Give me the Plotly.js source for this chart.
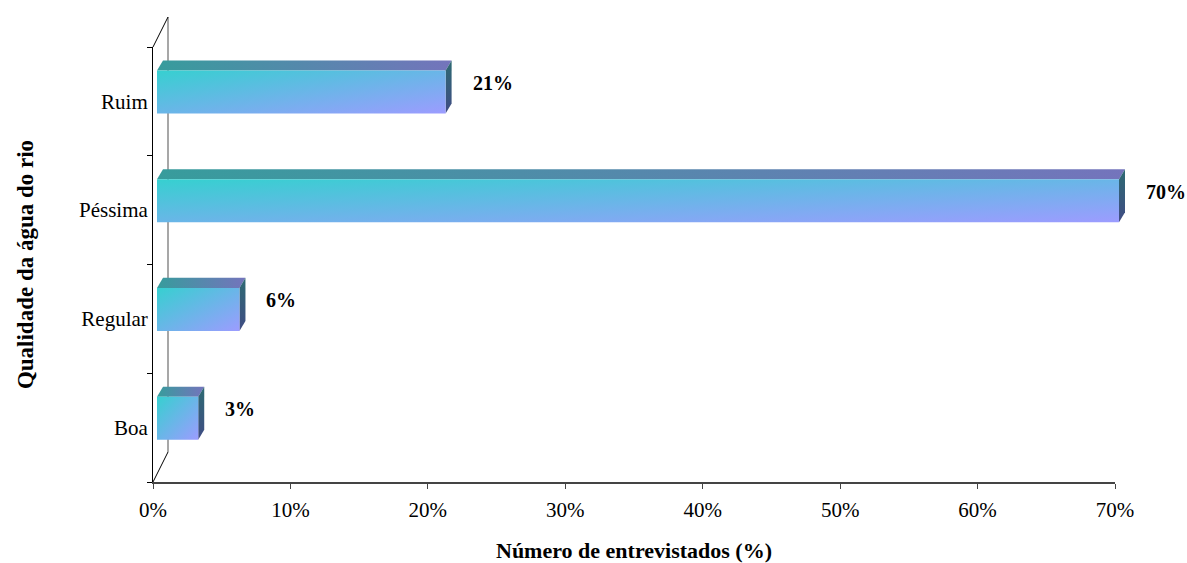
<!DOCTYPE html>
<html>
<head>
<meta charset="utf-8">
<script src="https://cdn.plot.ly/plotly-3.0.1.min.js"></script>
<style>
  html, body { margin: 0; padding: 0; background: #fff; }
  #chart { width: 1187px; height: 563px; }
</style>
</head>
<body>
<div id="chart"></div>
<script>
// ---- Data ----
const categories = ['Boa', 'Regular', 'Péssima', 'Ruim'];
const values = [3, 6, 70, 21];
const valueLabels = ['3%', '6%', '70%', '21%'];
const xTitle = 'Número de entrevistados (%)';
const yTitle = 'Qualidade da água do rio';

// ---- Geometry (styling) ----
const W = 1187, H = 563;
const M = { l: 153, r: 1, t: 47, b: 81 };
const axisW = 962;                  // px length of the visible 0–70% axis
const fullW = W - M.l - M.r;        // px of the whole plotting strip
const plotH = H - M.t - M.b;
const xMax = 70;
const kx = axisW / xMax;            // px per %
const ky = plotH / categories.length; // px per category
const shiftX = 4, shiftY = 9.5;     // front-face offset (px)
const barPx = 43;                   // bar thickness (px)
const depthX = 6, depthY = 10;      // 3D depth (px)
const wallX = 15, wallY = 30;       // back-wall depth (px)
const serif = '"Liberation Serif", "Times New Roman", serif';

const idx = categories.map((_, i) => i);
const hw = barPx / ky / 2, ddx = depthX / kx, ddy = depthY / ky;

// ---- 3D faces built from data ----
const shapes = [];
const roles = [];
const px = wallX / fullW, py = wallY / plotH;
shapes.push({ type: 'line', xref: 'paper', yref: 'paper', x0: px, x1: px, y0: py, y1: 1 + py,
  line: { color: '#8a8a8a', width: 1.5 }, layer: 'below' }); roles.push('frame');
shapes.push({ type: 'line', xref: 'paper', yref: 'paper', x0: 0, x1: px, y0: 0, y1: py,
  line: { color: '#000', width: 1 }, layer: 'below' }); roles.push('frame');
shapes.push({ type: 'line', xref: 'paper', yref: 'paper', x0: 0, x1: px, y0: 1, y1: 1 + py,
  line: { color: '#000', width: 1 }, layer: 'below' }); roles.push('frame');

values.forEach((v, i) => {
  const y0 = idx[i] - hw, y1 = idx[i] + hw;
  shapes.push({
    type: 'path', xref: 'x2', yref: 'y2', layer: 'below',
    path: `M0,${y1} L${v},${y1} L${v + ddx},${y1 + ddy} L${ddx},${y1 + ddy} Z`,
    fillcolor: '#5585a8', line: { width: 0 }
  }); roles.push('top');
  shapes.push({
    type: 'path', xref: 'x2', yref: 'y2', layer: 'below',
    path: `M${v},${y0} L${v},${y1} L${v + ddx},${y1 + ddy} L${v + ddx},${y0 + ddy} Z`,
    fillcolor: '#385878', line: { width: 0 }
  }); roles.push('side');
});

const annotations = values.map((v, i) => ({
  xref: 'x2', yref: 'y2', x: v, y: idx[i], text: '<b>' + valueLabels[i] + '</b>',
  showarrow: false, xanchor: 'left', yanchor: 'middle', xshift: 25, yshift: 9,
  font: { family: serif, size: 20, color: '#000' }
}));

const data = [
  { // category anchor (invisible) for the labelled axis
    type: 'scatter', mode: 'markers', x: values, y: categories,
    marker: { opacity: 0 }, hoverinfo: 'skip', showlegend: false
  },
  {
    type: 'bar', orientation: 'h', x: values, y: idx, xaxis: 'x2', yaxis: 'y2',
    width: barPx / ky, marker: { color: '#6ab6e8', line: { width: 0 } },
    cliponaxis: false, hoverinfo: 'skip', showlegend: false
  }
];

const layout = {
  width: W, height: H, margin: M,
  paper_bgcolor: '#fff', plot_bgcolor: 'rgba(0,0,0,0)',
  showlegend: false, hovermode: false,
  font: { family: serif, color: '#000' },
  xaxis: {
    domain: [0, axisW / fullW],
    range: [0, xMax], dtick: 10, tick0: 0, ticksuffix: '%',
    showline: true, linecolor: '#444', linewidth: 1.5,
    ticks: 'outside', ticklen: 5, tickcolor: '#444', tickwidth: 1,
    ticklabelstandoff: 3,
    showgrid: false, zeroline: false, fixedrange: true,
    tickfont: { family: serif, size: 21, color: '#000' },
    title: { text: '<b>' + xTitle + '</b>', font: { family: serif, size: 22, color: '#000' }, standoff: 22 }
  },
  yaxis: {
    type: 'category', categoryorder: 'array', categoryarray: categories,
    range: [-0.5, categories.length - 0.5],
    showline: true, linecolor: '#000', linewidth: 1,
    ticks: 'outside', tickson: 'boundaries', ticklen: 5, tickcolor: '#000',
    showgrid: false, zeroline: false, fixedrange: true,
    tickfont: { family: serif, size: 21, color: '#000' },
    title: { text: '<b>' + yTitle + '</b>', font: { family: serif, size: 23, color: '#000' }, standoff: 38 }
  },
  xaxis2: {
    domain: [0, 1], anchor: 'y2',
    range: [-shiftX / kx, (fullW - shiftX) / kx], visible: false, fixedrange: true
  },
  yaxis2: {
    overlaying: 'y', anchor: 'x2',
    range: [-0.5 - shiftY / ky, categories.length - 0.5 - shiftY / ky],
    visible: false, fixedrange: true
  },
  shapes: shapes,
  annotations: annotations
};

function addGrad(defs, id, x2, y2, stops) {
  const ns = 'http://www.w3.org/2000/svg';
  const g = document.createElementNS(ns, 'linearGradient');
  g.setAttribute('id', id);
  g.setAttribute('x1', '0'); g.setAttribute('y1', '0');
  g.setAttribute('x2', String(x2)); g.setAttribute('y2', String(y2));
  stops.forEach(([o, c]) => {
    const s = document.createElementNS(ns, 'stop');
    s.setAttribute('offset', o); s.setAttribute('stop-color', c);
    g.appendChild(s);
  });
  defs.appendChild(g);
}

Plotly.newPlot('chart', data, layout, { displayModeBar: false, staticPlot: true }).then(gd => {
  const svg = gd.querySelector('svg.main-svg');
  let defs = svg.querySelector('defs');
  if (!defs) { defs = document.createElementNS('http://www.w3.org/2000/svg', 'defs'); svg.insertBefore(defs, svg.firstChild); }
  addGrad(defs, 'gFront', 1, 1, [['0', '#36d0d0'], ['1', '#9c9cff']]);
  addGrad(defs, 'gTop', 1, 0, [['0', '#379c9c'], ['1', '#7474bc']]);
  addGrad(defs, 'gSide', 0, 1, [['0', '#2d6a72'], ['1', '#404c84']]);
  gd.querySelectorAll('.barlayer .point path').forEach(p => { p.style.fill = 'url(#gFront)'; });
  gd.querySelectorAll('.shapelayer path').forEach(p => {
    const r = roles[+p.getAttribute('data-index')];
    if (r === 'top') p.style.fill = 'url(#gTop)';
    else if (r === 'side') p.style.fill = 'url(#gSide)';
  });
});
</script>
</body>
</html>
